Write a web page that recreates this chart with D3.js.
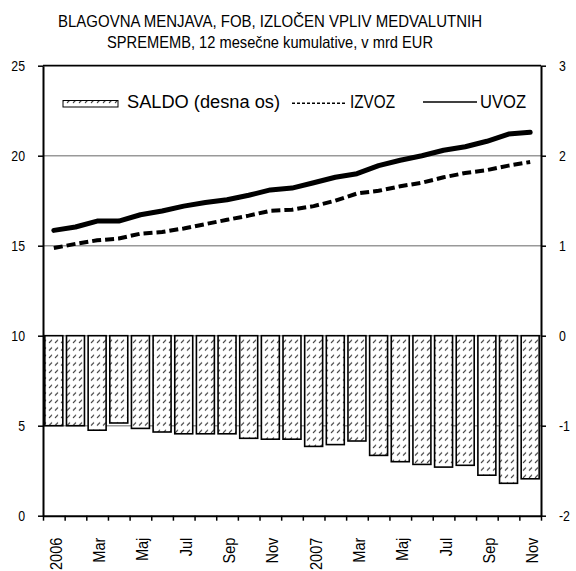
<!DOCTYPE html>
<html>
<head>
<meta charset="utf-8">
<script src="https://cdn.jsdelivr.net/npm/d3@7"></script>
<style>
  html, body { margin: 0; padding: 0; background: #fff; }
  svg { display: block; }
  text { font-family: "Liberation Sans", Arial, sans-serif; fill: #000; }
</style>
</head>
<body>
<script>
// ---- data ----
const months = ["2006","Feb","Mar","Apr","Maj","Jun","Jul","Avg","Sep","Okt","Nov","Dec",
                "2007","Feb","Mar","Apr","Maj","Jun","Jul","Avg","Sep","Okt","Nov"];
const uvoz  = [15.85,16.04,16.37,16.37,16.72,16.93,17.2,17.4,17.55,17.8,18.1,18.2,
               18.5,18.8,19.0,19.45,19.75,20.0,20.3,20.5,20.8,21.2,21.3];
const izvoz = [14.87,15.1,15.3,15.4,15.67,15.76,15.96,16.2,16.44,16.67,16.94,17.0,
               17.2,17.5,17.9,18.05,18.3,18.5,18.8,19.04,19.2,19.45,19.65];
const saldo = [-1.0,-1.0,-1.05,-0.97,-1.03,-1.07,-1.09,-1.09,-1.09,-1.14,-1.15,-1.15,
               -1.23,-1.21,-1.17,-1.33,-1.4,-1.43,-1.46,-1.44,-1.55,-1.64,-1.59];
const leftTicks = [0,5,10,15,20,25];
const rightTicks = [-2,-1,0,1,2,3];
const titleLines = ["BLAGOVNA MENJAVA, FOB, IZLOČEN VPLIV MEDVALUTNIH",
                    "SPREMEMB, 12 mesečne kumulative, v mrd EUR"];
const legendLabels = ["SALDO (desna os)", "IZVOZ", "UVOZ"];

// ---- layout ----
const W = 576, H = 571;
const L = 43, R = 541, T = 65.7, B = 515.7;

const svg = d3.select("body").append("svg").attr("width", W).attr("height", H);

function compress(sel, k) {
  sel.each(function () {
    const len = this.getComputedTextLength();
    this.setAttribute("textLength", len * k);
    this.setAttribute("lengthAdjust", "spacingAndGlyphs");
  });
}

const defs = svg.append("defs");
const pat = defs.append("pattern").attr("id", "hatch")
  .attr("patternUnits", "userSpaceOnUse").attr("width", 6).attr("height", 7.5);
pat.append("rect").attr("width", 6).attr("height", 7.5).attr("fill", "#fff");
pat.append("line").attr("x1", 1).attr("y1", 5.5).attr("x2", 4).attr("y2", 2.5)
  .attr("stroke", "#222").attr("stroke-width", 1.1);

const x = d3.scaleBand().domain(d3.range(months.length)).range([L, R])
  .paddingInner(0.17).paddingOuter(0.085);
const xTick = d3.scaleLinear().domain([0, months.length]).range([L, R]);
const yL = d3.scaleLinear().domain([0, 25]).range([B, T]);
const yR = d3.scaleLinear().domain([-2, 3]).range([B, T]);

// gridlines
svg.append("g").selectAll("line").data(leftTicks.filter(d => d > 0 && d < 25)).join("line")
  .attr("x1", L).attr("x2", R).attr("y1", d => yL(d)).attr("y2", d => yL(d))
  .attr("stroke", "#999").attr("stroke-width", 1.5);

// bars
svg.append("g").selectAll("rect").data(saldo).join("rect")
  .attr("x", (d, i) => x(i)).attr("width", x.bandwidth())
  .attr("y", d => yR(Math.max(0, d))).attr("height", d => Math.abs(yR(d) - yR(0)))
  .attr("fill", "url(#hatch)").attr("stroke", "#000").attr("stroke-width", 1.6);

// lines
const cx = i => x(i) + x.bandwidth() / 2;
const line = d3.line().x((d, i) => cx(i)).y(d => yL(d));
svg.append("path").datum(izvoz).attr("d", line).attr("fill", "none")
  .attr("stroke", "#000").attr("stroke-width", 4).attr("stroke-dasharray", "9,4");
svg.append("path").datum(uvoz).attr("d", line).attr("fill", "none")
  .attr("stroke", "#000").attr("stroke-width", 5)
  .attr("stroke-linecap", "round").attr("stroke-linejoin", "round");

// top border
svg.append("line").attr("x1", L).attr("x2", R).attr("y1", yL(25)).attr("y2", yL(25))
  .attr("stroke", "#000").attr("stroke-width", 1.8);

// axes
const fmt = d => String(d);
const axL = svg.append("g").attr("transform", `translate(${L},0)`)
  .call(d3.axisLeft(yL).tickValues(leftTicks).tickSize(5).tickPadding(13)
    .tickSizeOuter(0).tickFormat(fmt));
const axR = svg.append("g").attr("transform", `translate(${R},0)`)
  .call(d3.axisRight(yR).tickValues(rightTicks).tickSize(5).tickPadding(13)
    .tickSizeOuter(0).tickFormat(fmt));
const axB = svg.append("g").attr("transform", `translate(0,${B})`)
  .call(d3.axisBottom(xTick).tickValues(d3.range(months.length + 1)).tickSize(5)
    .tickFormat("").tickSizeOuter(0));

[axL, axR, axB].forEach(a => {
  a.select(".domain").attr("stroke", "#000").attr("stroke-width", 2);
  a.selectAll(".tick line").attr("stroke", "#000").attr("stroke-width", 1.5);
});
[axL, axR].forEach(a => {
  a.selectAll(".tick text").attr("font-size", 14).attr("fill", "#000")
    .attr("font-family", "Liberation Sans, Arial, sans-serif").attr("dy", "0.36em");
  compress(a.selectAll(".tick text"), 0.88);
});

// x labels (every other month)
const xl = svg.append("g").selectAll("text")
  .data(months.map((m, i) => ({ m, i })).filter(d => d.i % 2 === 0)).join("text")
  .attr("transform", d => `translate(${cx(d.i) + 8},${B + 22}) rotate(-90)`)
  .attr("text-anchor", "end").attr("font-size", 17.3).text(d => d.m);
compress(xl, 0.84);

// title
svg.append("g").selectAll("text").data(titleLines).join("text")
  .attr("x", 270).attr("y", (d, i) => 26.7 + i * 21)
  .attr("text-anchor", "middle").attr("font-size", 16.5)
  .attr("textLength", (d, i) => [424, 326][i]).attr("lengthAdjust", "spacingAndGlyphs")
  .text(d => d);

// legend
const lg = svg.append("g");
lg.append("rect").attr("x", 63).attr("y", 100.5).attr("width", 55).attr("height", 6.5)
  .attr("fill", "url(#hatch)").attr("stroke", "#000").attr("stroke-width", 1);
lg.append("line").attr("x1", 292).attr("x2", 347).attr("y1", 103.3).attr("y2", 103.3)
  .attr("stroke", "#000").attr("stroke-width", 1.5).attr("stroke-dasharray", "3,2");
lg.append("line").attr("x1", 423).attr("x2", 477).attr("y1", 102).attr("y2", 102)
  .attr("stroke", "#000").attr("stroke-width", 1.5);
const legX = [127, 350, 480], legLen = [153, 45, 46];
lg.selectAll("text").data(legendLabels).join("text")
  .attr("x", (d, i) => legX[i]).attr("y", 107.5).attr("font-size", 17.5)
  .attr("textLength", (d, i) => legLen[i]).attr("lengthAdjust", "spacingAndGlyphs")
  .text(d => d);
</script>
</body>
</html>
